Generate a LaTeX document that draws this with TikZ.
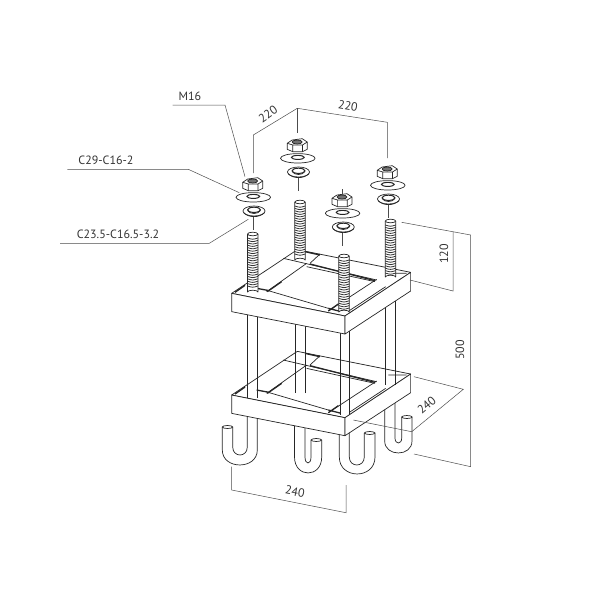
\documentclass[tikz,border=0pt]{standalone}
\usepackage{fontspec}
\setmainfont{PT Sans}
\tikzset{
  partline/.style={draw=black!85, line width=.7pt, line join=round},
  barline/.style={draw=black!85, line width=1.3pt},
  dimline/.style={draw=black!70, line width=.5pt},
  dimtext/.style={text=black!80, font=\fontsize{12}{12}\selectfont, inner sep=0pt},
}
% one threaded stud: centre x, top y, bottom y
\newcommand{\threadrod}[3]{
  \draw[partline, fill=white] (#1-5.2,#2) -- (#1-5.2,#3) arc[x radius=5.2, y radius=1.8, start angle=180, end angle=360] -- (#1+5.2,#2);
  \foreach[parse=true] \ty in {#2+4,#2+6.4,...,#3-4}
    \draw[black!80, line width=.8pt] (#1-5.2,\ty) .. controls (#1,\ty+1.6) .. (#1+5.2,\ty);
  \draw[partline, fill=white] (#1,#2) ellipse[x radius=5.2, y radius=1.8];
}
% nut, washer and spring washer, drawn for the left stud and shifted
\newcommand{\nutset}[2]{
  \begin{scope}[shift={(#1,#2)}]
    \draw[dimline] (253.3,214) -- (253.3,230);
    \draw[partline, fill=white] (242.7,182.3) -- (247.7,179) -- (257.7,177.7) -- (262.7,181) -- (262.7,188.3) -- (258,190.7) -- (248.3,190.7) -- (242.7,188.3) -- cycle;
    \draw[partline] (242.7,182.3) -- (248.3,184) -- (258,184) -- (262.7,181) (248.3,184) -- (248.3,190.7) (258,184) -- (258,190.7);
    \draw[partline, fill=black!55] (252.7,181) ellipse[x radius=5, y radius=2];
    \draw[partline, fill=white] (253.3,197.3) ellipse[x radius=17.3, y radius=4.7];
    \draw[partline, line width=1pt] (253.3,196.4) ellipse[x radius=6.5, y radius=2];
    \draw[partline, fill=white] (254,211) ellipse[x radius=11, y radius=5];
    \draw[partline, line width=1pt] (254,209.8) ellipse[x radius=6.5, y radius=2.6];
    \draw[partline] (243.6,212.5) .. controls (248,218) and (260,218) .. (264.6,212.5);
    \draw[partline] (247.5,210.5) .. controls (250,214.5) and (258,214.5) .. (260.5,210.5);
  \end{scope}
}
% angle steel frame, written in the crop units of a third of a pixel
\newcommand{\steelframe}[1]{
  \begin{scope}[shift={(210,#1)}, x=.3333pt, y=-.3333pt]
    \draw[partline, fill=white] (65,160) -- (262,29) -- (602,97) -- (405,228) -- cycle;
    \draw[partline, fill=white] (65,160) -- (405,228) -- (405,282) -- (65,215) -- cycle;
    \draw[partline, fill=white] (405,228) -- (602,97) -- (602,153) -- (405,282) -- cycle;
    \draw[partline] (170,155) -- (290,70) (175,152) -- (355,205) (355,213) -- (500,118) (220,55) -- (500,120) (300,70) -- (330,42);
    \draw[partline] (418,212) -- (527,140) (290,80) -- (495,125) (535,100) -- (590,100);
    \draw[barline] (75,157) -- (105,136) (140,145) -- (178,152) (172,155) -- (215,125) (355,205) -- (390,214) (355,213) -- (385,192) (285,35) -- (330,45) (300,72) -- (495,122);
  \end{scope}
}
\begin{document}
\begin{tikzpicture}[x=1pt, y=-1pt]
  \useasboundingbox (0,0) rectangle (600,600);
  % hooks
  \foreach \xa/\xb/\xc/\xd/\ya/\yd/\ye/\yo/\ei/\ii/\xt/\yt in {
      384.7/395/401.7/412/395/417/441/453/438/443/406.9/417,
      294.5/305/311/321.7/400/440/457/473/457/463/316.3/440,
      222.3/232.7/247.3/257.3/427/405/450/465/447/455/227.5/427,
      339.3/349.3/364.3/375/400/433/457/474/457/465/369.7/433}{
    \draw[partline, fill=white] (\xa,\ya) -- (\xa,\ye) .. controls (\xa,{\ye+(\yo-\ye)*1.33}) and (\xd,{\ye+(\yo-\ye)*1.33}) .. (\xd,\ye) -- (\xd,\yd)
      -- (\xc,\yd) -- (\xc,\ei) .. controls (\xc,{\ei+(\ii-\ei)*1.33}) and (\xb,{\ei+(\ii-\ei)*1.33}) .. (\xb,\ei) -- (\xb,\ya) -- cycle;
    \draw[partline, fill=white] (\xt,\yt) ellipse[x radius=5.2, y radius=1.5];
  }
  \steelframe{341.7}
  % plain rods between the frames
  \foreach \xl/\xr/\yb in {295/305/393, 385.7/395.3/385, 247.3/257.7/398, 340/349.3/415}
    \draw[partline, fill=white] (\xl,300) -- (\xl,\yb) (\xr,\yb) -- (\xr,300);
  \steelframe{240}
  % studs
  \threadrod{300}{202}{260}
  \threadrod{390.5}{221}{277}
  \threadrod{252.7}{234}{292}
  \threadrod{344}{256}{312}
  \nutset{44.5}{-39}
  \nutset{134.5}{-12}
  \nutset{0}{0}
  \nutset{89.3}{16}
  % leaders
  \path (172.7,105) coordinate (mA) (225,105) coordinate (mB) (245,176.7) coordinate (mC);
  \path (67.3,169.3) coordinate (wA) (188.3,169.3) coordinate (wB) (239.3,192.7) coordinate (wC);
  \path (60,243.3) coordinate (sA) (209.3,243.3) coordinate (sB) (248.3,219.3) coordinate (sC);
  \draw[dimline] (mA) -- (mB) -- (mC);
  \draw[dimline] (wA) -- (wB) -- (wC);
  \draw[dimline] (sA) -- (sB) -- (sC);
  \node[dimtext] (lblnut) at (190,96.7) {M16};
  \node[dimtext] (lblwasher) at (106,160) {C29-C16-2};
  \node[dimtext] (lblspring) at (118,234) {C23.5-C16.5-3.2};
  % dimensions
  \path (253.3,173) coordinate (tA) (253.3,135) coordinate (tB) (297.3,108.3) coordinate (tC) (387.3,122.3) coordinate (tD) (387.3,158) coordinate (tE) (297.3,133) coordinate (tF) (342.3,189) coordinate (tG) (342.3,196) coordinate (tH);
  \draw[dimline] (tA) -- (tB) -- (tC) -- (tD) -- (tE);
  \draw[dimline] (tC) -- (tF);
  \draw[dimline] (tG) -- (tH);
  \path (401.7,222.3) coordinate (hA) (470.7,235) coordinate (hB) (470.7,466.7) coordinate (hC) (414,454) coordinate (hD);
  \path (453,231.5) coordinate (qA) (453,291) coordinate (qB) (410,280) coordinate (qC);
  \draw[dimline] (hA) -- (hB) -- (hC) -- (hD);
  \draw[dimline] (qA) -- (qB) -- (qC);
  \path (414,376.7) coordinate (dA) (463.3,389.3) coordinate (dB) (411.7,431.7) coordinate (dC) (353.3,420) coordinate (dD);
  \draw[dimline] (dA) -- (dB) -- (dC) -- (dD);
  \path (231.7,466.7) coordinate (bA) (231.7,490) coordinate (bB) (346,512.7) coordinate (bC) (346,485) coordinate (bD);
  \draw[dimline] (bA) -- (bB) -- (bC) -- (bD);
  \node[dimtext, rotate=35] (lblleft) at (268,114) {220};
  \node[dimtext, rotate=-10] (lbltop) at (348,106) {220};
  \node[dimtext, rotate=90] (lblstud) at (444,254) {120};
  \node[dimtext, rotate=90] (lblheight) at (460,350) {500};
  \node[dimtext, rotate=40] (lbldepth) at (426.7,405) {240};
  \node[dimtext, rotate=-11] (lblwidth) at (295,491.7) {240};
\end{tikzpicture}
\end{document}
